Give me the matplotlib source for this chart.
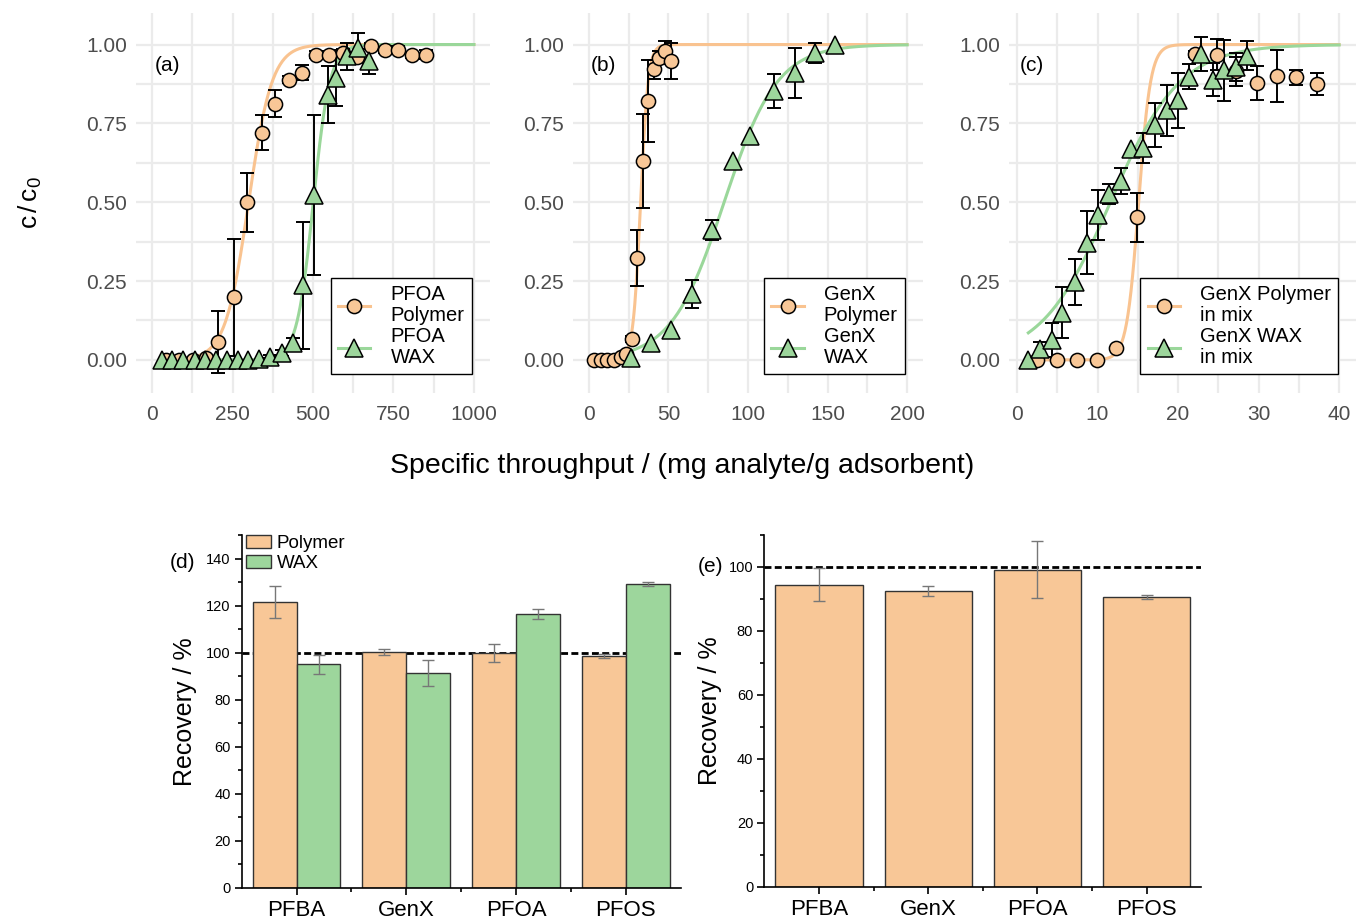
#!/usr/bin/env python3
"""Breakthrough curves (a-c) and recovery bars (d, e) for PFAS on polymer and WAX."""

from __future__ import annotations

import matplotlib
matplotlib.use("Agg")
import matplotlib.pyplot as plt
import numpy as np
from matplotlib.lines import Line2D
from matplotlib.patches import Patch
from matplotlib.ticker import FixedLocator, MultipleLocator

# ---- breakthrough data (x = specific throughput, y = c/c0, err = sd) ----
a_poly_x = [42, 84, 126, 168, 206, 256, 294, 341, 382, 424, 467, 508, 551, 594,
            636, 680, 724, 763, 808, 850]
a_poly_y = [0.0, 0.0, 0.0, 0.005, 0.056, 0.198, 0.50, 0.72, 0.813, 0.889, 0.910,
            0.968, 0.968, 0.973, 0.96, 0.995, 0.982, 0.982, 0.966, 0.968]
a_poly_err = [0, 0, 0, 0, 0.098, 0.186, 0.094, 0.056, 0.042, 0.012, 0.024, 0.01,
              0.01, 0.012, 0.01, 0.01, 0.01, 0.012, 0.01, 0.015]
a_wax_x = [30, 63, 97, 132, 165, 199, 232, 266, 299, 333, 367, 403, 437, 470, 503,
           546, 573, 607, 641, 674]
a_wax_y = [0.0, 0.0, 0.0, 0.0, 0.0, 0.0, 0.0, 0.0, 0.0, 0.002, 0.01, 0.021, 0.053,
           0.236, 0.524, 0.841, 0.894, 0.963, 0.989, 0.947]
a_wax_err = [0, 0, 0, 0, 0, 0, 0, 0, 0, 0, 0.005, 0.01, 0.015, 0.2, 0.254, 0.09,
             0.09, 0.043, 0.047, 0.04]

b_poly_x = [3.2, 7.4, 11.6, 15.8, 20.0, 23.5, 27.3, 30.5, 34.0, 37.2, 41.0, 44.1,
            47.7, 51.5]
b_poly_y = [0.0, 0.0, 0.0, 0.0, 0.01, 0.02, 0.066, 0.323, 0.63, 0.822, 0.921,
            0.958, 0.979, 0.948]
b_poly_err = [0, 0, 0, 0, 0, 0.005, 0.01, 0.09, 0.149, 0.13, 0.03, 0.02, 0.031,
              0.057]
b_wax_x = [26.3, 38.9, 51.5, 64.7, 77.4, 90.4, 101.3, 116.6, 129.3, 142.3, 154.5]
b_wax_y = [0.005, 0.053, 0.095, 0.209, 0.413, 0.630, 0.711, 0.852, 0.909, 0.974,
           1.0]
b_wax_err = [0, 0, 0, 0.045, 0.032, 0, 0, 0.053, 0.08, 0.032, 0]

c_poly_x = [2.5, 5.0, 7.5, 9.9, 12.3, 14.9, 22.1, 24.8, 27.2, 29.8, 32.3, 34.7,
            37.3]
c_poly_y = [0.0, 0.0, 0.0, 0.0, 0.037, 0.452, 0.971, 0.968, 0.915, 0.878, 0.90,
            0.896, 0.875]
c_poly_err = [0, 0, 0, 0, 0.005, 0.077, 0.01, 0.05, 0.047, 0.053, 0.083, 0.024,
              0.036]
c_wax_x = [1.4, 2.8, 4.3, 5.6, 7.2, 8.7, 10.0, 11.4, 12.9, 14.2, 15.7, 17.1, 18.6,
           20.0, 21.3, 22.8, 24.4, 25.7, 27.2, 28.5]
c_wax_y = [0.0, 0.034, 0.063, 0.15, 0.248, 0.372, 0.46, 0.527, 0.568, 0.67, 0.672,
           0.745, 0.792, 0.823, 0.898, 0.969, 0.889, 0.918, 0.928, 0.965]
c_wax_err = [0, 0.024, 0.055, 0.081, 0.073, 0.10, 0.08, 0.032, 0.042, 0, 0.048,
             0.07, 0.081, 0.088, 0.039, 0.054, 0.053, 0.096, 0.045, 0.045]

# logistic fit parameters (midpoint, slope)
a_fit = {"poly": (300, 0.0275), "wax": (501, 0.039)}
b_fit = {"poly": (32.5, 0.42), "wax": (85, 0.06)}
c_fit = {"poly": (15.1, 1.35), "wax": (11.6, 0.232)}

# ---- recovery data ----
analytes = ["PFBA", "GenX", "PFOA", "PFOS"]
d_poly = [121.5, 100.3, 99.9, 98.7]
d_poly_err = [6.8, 1.3, 3.8, 0.9]
d_wax = [95.0, 91.4, 116.3, 129.1]
d_wax_err = [4.0, 5.5, 2.2, 1.0]
e_poly = [94.5, 92.5, 99.2, 90.7]
e_poly_err = [5.1, 1.7, 9.0, 0.6]

ORANGE = "#F8C797"
GREEN = "#9DD69C"
ORANGE_LINE = "#F9C390"
GREEN_LINE = "#9AD79A"
GRID = "#EBEBEB"

plt.rcParams["font.family"] = ["Liberation Sans", "DejaVu Sans"]
plt.rcParams["mathtext.fontset"] = "custom"
plt.rcParams["mathtext.rm"] = "Liberation Sans"
plt.rcParams["mathtext.it"] = "Liberation Sans"

W, H = 1356, 919


def px_rect(left, top, right, bottom):
    return [left / W, 1 - bottom / H, (right - left) / W, (bottom - top) / H]


def logistic(x, mid, k):
    return 1.0 / (1.0 + np.exp(-k * (x - mid)))


def breakthrough(ax, px, py, pe, wx, wy, we, fit, xmax, xlim, step, labels, tag, tagx):
    ax.set_xlim(*xlim)
    ax.set_ylim(-0.105, 1.10)
    for s in ax.spines.values():
        s.set_visible(False)
    ax.xaxis.set_major_locator(MultipleLocator(step))
    ax.xaxis.set_minor_locator(MultipleLocator(step / 2))
    ax.yaxis.set_major_locator(FixedLocator([0, 0.25, 0.5, 0.75, 1.0]))
    ax.yaxis.set_minor_locator(MultipleLocator(0.125))
    ax.set_yticklabels(["0.00", "0.25", "0.50", "0.75", "1.00"])
    ax.grid(which="both", color=GRID, lw=1.6, zorder=0)
    ax.set_axisbelow(True)
    ax.tick_params(which="both", length=0, labelsize=15, labelcolor="#4D4D4D")
    ax.tick_params(axis="y", pad=6.5)
    ax.tick_params(axis="x", pad=8.5)

    xs = np.linspace(px[0], xmax, 400)
    ax.plot(xs, logistic(xs, *fit["poly"]), color=ORANGE_LINE, lw=2.2, zorder=2)
    xs = np.linspace(wx[0], xmax, 400)
    ax.plot(xs, logistic(xs, *fit["wax"]), color=GREEN_LINE, lw=2.2, zorder=2)

    for x, y, e in ((px, py, pe), (wx, wy, we)):
        x, y, e = np.array(x), np.array(y), np.array(e)
        m = e > 0
        ax.errorbar(x[m], y[m], yerr=e[m], fmt="none", ecolor="black",
                    elinewidth=1.4, capsize=5, capthick=1.4, zorder=3)
    ax.plot(px, py, "o", ms=10.2, mfc=ORANGE, mec="black", mew=1.1, zorder=4)
    ax.plot(wx, wy, "^", ms=12.5, mfc=GREEN, mec="black", mew=1.1, zorder=5)

    handles = [
        Line2D([], [], color=ORANGE_LINE, lw=2.2, marker="o", ms=10.2, mfc=ORANGE,
               mec="black", mew=1.1),
        Line2D([], [], color=GREEN_LINE, lw=2.2, marker="^", ms=12.5, mfc=GREEN,
               mec="black", mew=1.1),
    ]
    leg = ax.legend(handles, labels, loc="lower right", bbox_to_anchor=(0.948, 0.05),
                    borderaxespad=0, fontsize=14.5, frameon=True, fancybox=False,
                    framealpha=1, edgecolor="black", handlelength=1.6,
                    handletextpad=1.0, labelspacing=0.1, borderpad=0.35)
    leg.get_frame().set_linewidth(1.0)
    for t in leg.get_texts():
        t.set_linespacing(1.12)
    ax.text(tagx, 0.863, tag, transform=ax.transAxes, ha="center", va="center",
            fontsize=15)


def style_bar_axes(ax, ymax):
    ax.set_xlim(-0.5, 3.5)
    ax.set_ylim(0, ymax)
    ax.spines["top"].set_visible(False)
    ax.spines["right"].set_visible(False)
    ax.spines["left"].set_linewidth(1.2)
    ax.spines["bottom"].set_linewidth(1.2)
    ax.set_xticks(range(len(analytes)))
    ax.set_xticklabels(analytes)
    ax.xaxis.set_minor_locator(FixedLocator([0.5, 1.5, 2.5]))
    ax.yaxis.set_major_locator(MultipleLocator(20))
    ax.yaxis.set_minor_locator(MultipleLocator(10))
    ax.tick_params(which="major", direction="out", length=5, width=1.2)
    ax.tick_params(which="minor", direction="out", length=3, width=1.2)
    ax.tick_params(axis="x", labelsize=16, pad=4)
    ax.tick_params(axis="y", labelsize=10.5, pad=3)
    ax.axhline(100, color="black", lw=2, ls=(0, (2.5, 1.2)), zorder=1)
    ax.set_ylabel("Recovery / %", fontsize=18)


def main() -> int:
    fig = plt.figure(figsize=(W / 100, H / 100), dpi=100)

    ax_a = fig.add_axes(px_rect(136, 13, 490, 393))
    ax_b = fig.add_axes(px_rect(573, 13, 923, 393))
    ax_c = fig.add_axes(px_rect(1009, 13, 1356, 393))

    breakthrough(ax_a, a_poly_x, a_poly_y, a_poly_err, a_wax_x, a_wax_y, a_wax_err,
                 a_fit, 1000, (-50, 1050), 250,
                 ["PFOA\nPolymer", "PFOA\nWAX"], "(a)", 0.0876)
    breakthrough(ax_b, b_poly_x, b_poly_y, b_poly_err, b_wax_x, b_wax_y, b_wax_err,
                 b_fit, 200, (-10, 210), 50,
                 ["GenX\nPolymer", "GenX\nWAX"], "(b)", 0.0857)
    breakthrough(ax_c, c_poly_x, c_poly_y, c_poly_err, c_wax_x, c_wax_y, c_wax_err,
                 c_fit, 40, (-1, 42.1), 10,
                 ["GenX Polymer\nin mix", "GenX WAX\nin mix"], "(c)", 0.066)

    fig.text(30 / W, 1 - 203 / H, r"$\mathregular{c\,/\,c_0}$", rotation=90,
             ha="center", va="center", fontsize=19)
    fig.text(682 / W, 1 - 466 / H, "Specific throughput / (mg analyte/g adsorbent)",
             ha="center", va="center", fontsize=20.5)

    # (d) recovery, polymer vs WAX
    ax_d = fig.add_axes(px_rect(241.7, 535, 680.8, 887.7))
    x = np.arange(len(analytes))
    ax_d.bar(x - 0.2, d_poly, width=0.4, color=ORANGE, edgecolor="#333333", lw=1,
             zorder=2)
    ax_d.bar(x + 0.2, d_wax, width=0.4, color=GREEN, edgecolor="#333333", lw=1,
             zorder=2)
    ax_d.errorbar(x - 0.2, d_poly, yerr=d_poly_err, fmt="none", ecolor="#777777",
                  elinewidth=1, capsize=4, capthick=1, zorder=3)
    ax_d.errorbar(x + 0.2, d_wax, yerr=d_wax_err, fmt="none", ecolor="#777777",
                  elinewidth=1, capsize=4, capthick=1, zorder=3)
    style_bar_axes(ax_d, 150)
    ax_d.yaxis.set_label_coords(-0.102, 0.5)
    ax_d.legend([Patch(facecolor=ORANGE, edgecolor="#333333"),
                 Patch(facecolor=GREEN, edgecolor="#333333")],
                ["Polymer", "WAX"], loc="upper left", bbox_to_anchor=(0.005, 1.005),
                borderaxespad=0, frameon=False, fontsize=13.5, handlelength=1.35,
                handleheight=0.65, handletextpad=0.3, labelspacing=0.15,
                borderpad=0.1)
    fig.text(183 / W, 1 - 563 / H, "(d)", ha="center", va="center", fontsize=15)

    # (e) recovery, polymer only
    ax_e = fig.add_axes(px_rect(764.3, 535, 1201.4, 886.7))
    ax_e.bar(x, e_poly, width=0.8, color=ORANGE, edgecolor="#333333", lw=1, zorder=2)
    ax_e.errorbar(x, e_poly, yerr=e_poly_err, fmt="none", ecolor="#777777",
                  elinewidth=1, capsize=4, capthick=1, zorder=3)
    style_bar_axes(ax_e, 110)
    ax_e.yaxis.set_label_coords(-0.0975, 0.5)
    fig.text(710.7 / W, 1 - 566 / H, "(e)", ha="center", va="center", fontsize=15)

    fig.savefig("out.png", dpi=100)
    plt.close(fig)
    return 0


if __name__ == "__main__":
    raise SystemExit(main())
